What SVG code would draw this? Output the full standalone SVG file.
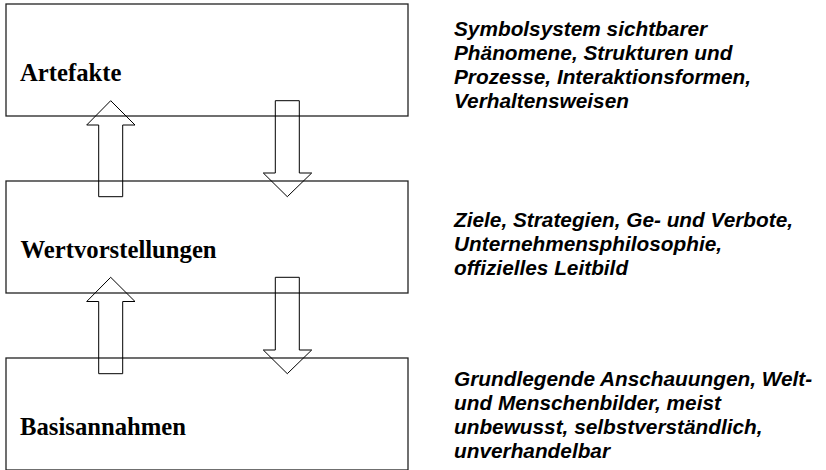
<svg xmlns="http://www.w3.org/2000/svg" width="826" height="470" viewBox="0 0 826 470">
  <style>
    .box { fill: none; stroke: #222; stroke-width: 1.3; }
    .arrow { fill: none; stroke: #000; stroke-width: 1; stroke-linejoin: miter; }
    .label { font-family: "Liberation Serif", "Times New Roman", serif; font-weight: bold; font-size: 24.7px; fill: #000; }
    .desc { font-family: "Liberation Sans", Arial, Helvetica, sans-serif; font-weight: bold; font-style: italic; font-size: 20.8px; fill: #000; }
  </style>
  <rect width="826" height="470" fill="#fff"/>

  <g id="artefakte">
    <rect class="box" x="6" y="4" width="402" height="112"/>
    <text class="label" x="20" y="81">Artefakte</text>
  </g>
  <g id="wertvorstellungen">
    <rect class="box" x="6" y="181" width="402" height="112"/>
    <text class="label" x="20.5" y="257.5">Wertvorstellungen</text>
  </g>
  <g id="basisannahmen">
    <rect class="box" x="6" y="358" width="402" height="112"/>
    <text class="label" x="20" y="434.5">Basisannahmen</text>
  </g>

  <g id="desc-artefakte">
    <text class="desc" x="454" y="36">Symbolsystem sichtbarer</text>
    <text class="desc" x="454" y="60">Phänomene, Strukturen und</text>
    <text class="desc" x="454" y="84">Prozesse, Interaktionsformen,</text>
    <text class="desc" x="454" y="108">Verhaltensweisen</text>
  </g>
  <g id="desc-wertvorstellungen">
    <text class="desc" x="454" y="227">Ziele, Strategien, Ge- und Verbote,</text>
    <text class="desc" x="454" y="251">Unternehmensphilosophie,</text>
    <text class="desc" x="454" y="275">offizielles Leitbild</text>
  </g>
  <g id="desc-basisannahmen">
    <text class="desc" x="454" y="386">Grundlegende Anschauungen, Welt-</text>
    <text class="desc" x="454" y="410">und Menschenbilder, meist</text>
    <text class="desc" x="454" y="434">unbewusst, selbstverständlich,</text>
    <text class="desc" x="454" y="458">unverhandelbar</text>
  </g>

  <g id="connectors">
    <!-- block arrows between Artefakte and Wertvorstellungen -->
    <polygon class="arrow" points="110.7,100.7 135,125 122.7,125 122.7,196.7 98.7,196.7 98.7,125 86.7,125"/>
    <polygon class="arrow" points="275.3,100.7 299.3,100.7 299.3,173 311.7,173 287.3,196.7 263.3,173 275.3,173"/>
    <!-- block arrows between Wertvorstellungen and Basisannahmen -->
    <polygon class="arrow" points="110.7,277.3 135,301.5 122.7,301.5 122.7,373.7 98.7,373.7 98.7,301.5 86.7,301.5"/>
    <polygon class="arrow" points="275.3,277.3 299.3,277.3 299.3,350 311.7,350 287.3,373.7 263.3,350 275.3,350"/>
  </g>
</svg>
